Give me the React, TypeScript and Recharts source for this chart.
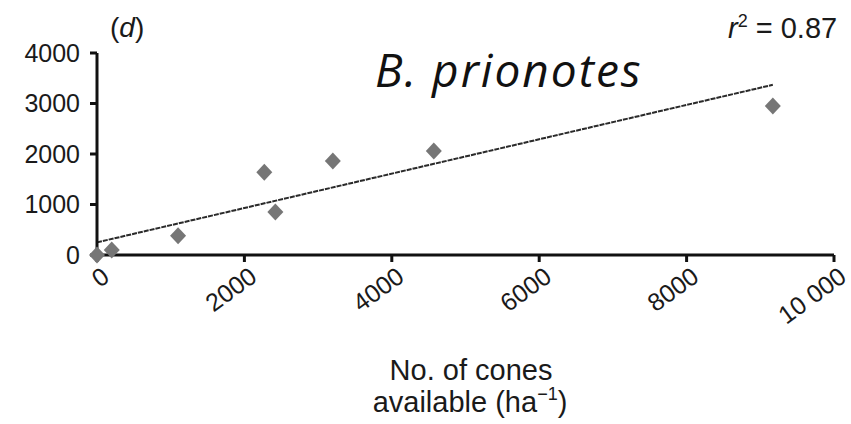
import React from 'react';
import { ScatterChart, Scatter, XAxis, YAxis, ReferenceLine, Customized } from 'recharts';

const conesAvailable = [0, 200, 1100, 2270, 2420, 3200, 4570, 9170];
const seedsRemoved = [0, 100, 380, 1640, 850, 1860, 2060, 2950];
const fitLine = [
  { x: 0, y: 250 },
  { x: 9170, y: 3370 },
];
const xTicks = [0, 2000, 4000, 6000, 8000, 10000];
const xTickLabels = ['0', '2000', '4000', '6000', '8000', '10 000'];
const yTicks = [0, 1000, 2000, 3000, 4000];

const points = conesAvailable.map((x, i) => ({ x, y: seedsRemoved[i] }));

const FONT = 'Arial, "Liberation Sans", Helvetica, sans-serif';

const Diamond = (props: any) => {
  const { cx, cy } = props;
  if (cx == null || cy == null) return null;
  const w = 8;
  const h = 8.5;
  return (
    <polygon
      points={`${cx},${cy - h} ${cx + w},${cy} ${cx},${cy + h} ${cx - w},${cy}`}
      fill="#767676"
    />
  );
};

const XTick = (props: any) => {
  const { x, y, payload } = props;
  const idx = xTicks.indexOf(payload.value);
  const label = idx >= 0 ? xTickLabels[idx] : String(payload.value);
  const tx = x + 14;
  const ty = y + 18;
  return (
    <text
      x={tx}
      y={ty}
      textAnchor="end"
      transform={`rotate(-36, ${tx}, ${ty})`}
      fontFamily={FONT}
      fontSize={25}
      fill="#1a1a1a"
    >
      {label}
    </text>
  );
};

const Annotations = () => (
  <g>
    <text x={110} y={37} fontFamily={FONT} fontSize={28} fill="#1a1a1a">
      (<tspan fontStyle="italic">d</tspan>)
    </text>
    <text x={728} y={38} fontFamily={FONT} fontSize={29} fill="#1a1a1a">
      <tspan fontStyle="italic">r</tspan>
      <tspan fontSize={18} dy={-11}>2</tspan>
      <tspan dy={11}> = 0.87</tspan>
    </text>
    <text
      x={375}
      y={87}
      fontFamily='"Open Sans", sans-serif'
      fontStyle="italic"
      fontSize={46}
      letterSpacing={2}
      fill="#111"
    >
      B. prionotes
    </text>
    <text x={471} y={380} textAnchor="middle" fontFamily={FONT} fontSize={29} fill="#1a1a1a">
      No. of cones
    </text>
    <text x={470} y={412} textAnchor="middle" fontFamily={FONT} fontSize={29} fill="#1a1a1a">
      available (ha
      <tspan fontSize={18} dy={-12}>−1</tspan>
      <tspan dy={12}>)</tspan>
    </text>
  </g>
);

export default function App() {
  return (
    <div style={{ position: 'absolute', left: 0, top: 0, background: '#fff' }}>
      <ScatterChart
        width={851}
        height={424}
        margin={{ top: 53, right: 17, bottom: 109, left: 27 }}
      >
        <XAxis
          type="number"
          dataKey="x"
          domain={[0, 10000]}
          ticks={xTicks}
          interval={0}
          tickSize={7}
          tickMargin={0}
          height={60}
          axisLine={{ stroke: '#111', strokeWidth: 3 }}
          tickLine={{ stroke: '#111', strokeWidth: 3 }}
          tick={<XTick />}
        />
        <YAxis
          type="number"
          dataKey="y"
          domain={[0, 4000]}
          ticks={yTicks}
          interval={0}
          width={70}
          tickSize={7}
          tickMargin={10}
          axisLine={{ stroke: '#111', strokeWidth: 3 }}
          tickLine={{ stroke: '#111', strokeWidth: 3 }}
          tick={{ fontFamily: FONT, fontSize: 25, fill: '#1a1a1a' }}
        />
        <ReferenceLine
          segment={fitLine}
          stroke="#2a2a2a"
          strokeWidth={2}
          strokeDasharray="5 1"
          ifOverflow="visible"
        />
        <Scatter data={points} shape={<Diamond />} isAnimationActive={false} />
        <Customized component={Annotations} />
      </ScatterChart>
    </div>
  );
}
